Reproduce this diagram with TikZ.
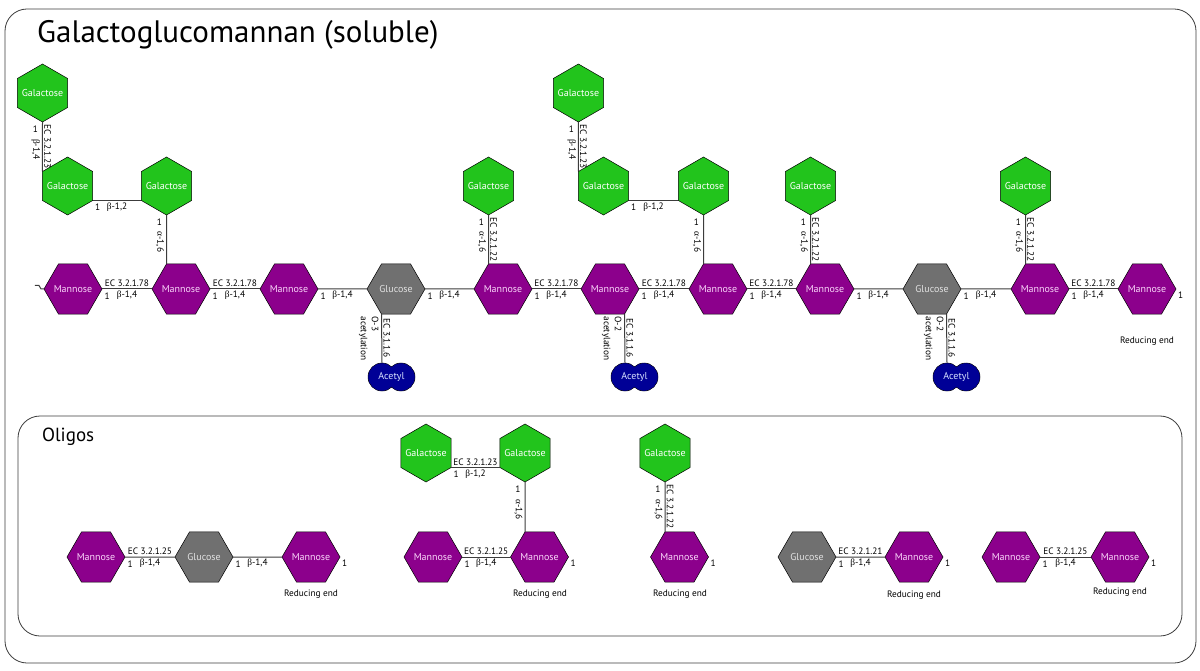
\documentclass[tikz,border=0pt]{standalone}
\usepackage{fontspec}
\setmainfont{PT Sans}
\newfontfamily\grk{Liberation Serif}
\usetikzlibrary{shapes.geometric, positioning}
\definecolor{galcol}{RGB}{34,196,28}
\definecolor{mancol}{RGB}{140,0,140}
\definecolor{glccol}{RGB}{112,112,112}
\definecolor{acecol}{RGB}{0,0,150}
\definecolor{mantext}{RGB}{250,215,250}
\definecolor{glctext}{RGB}{225,225,225}
\definecolor{acetext}{RGB}{215,225,255}
\definecolor{linecol}{RGB}{60,60,60}
\tikzset{
  hexa/.style={regular polygon, regular polygon sides=6, minimum size=58pt, inner sep=0pt, outer sep=0pt,
    draw=black, line width=0.5pt, font=\fontsize{10}{11}\selectfont,
    execute at begin node={\hbox to 0pt\bgroup\hss}, execute at end node={\hss\egroup}},
  man/.style={hexa, fill=mancol, text=mantext},
  glc/.style={hexa, fill=glccol, text=glctext},
  gal/.style={hexa, shape border rotate=30, fill=galcol, text=white},
  acirc/.style={circle, minimum size=28pt, inner sep=0pt, draw=black, line width=0.5pt, fill=acecol},
  acetxt/.style={text=acetext, font=\fontsize{10}{11}\selectfont},
  bnd/.style={draw=linecol, line width=1pt},
  lbl/.style={font=\fontsize{9.3}{11}\selectfont},
  ec/.style={lbl, above, inner sep=1.5pt},
  lk/.style={lbl, below, inner sep=1.5pt},
  one/.style={lbl, anchor=north west, inner sep=0pt, xshift=2pt, yshift=-3pt},
  onev/.style={lbl, anchor=north east, inner sep=0pt, xshift=-4pt, yshift=-3pt},
  ecv/.style={lbl, midway, rotate=-90, anchor=south, inner sep=1.2pt},
  lkv/.style={lbl, pos=0.55, rotate=-90, anchor=north, inner sep=2pt},
  acl/.style={lbl, xshift=-2.5pt, yshift=-2pt, anchor=north west, rotate=-90, align=left, inner sep=0pt},
  redend/.style={lbl}
}
\begin{document}
\begin{tikzpicture}[x=1pt, y=-1pt]
\useasboundingbox (0,0) rectangle (1200,671);
% frames
\draw[linecol, line width=0.8pt, rounded corners=22pt] (5,9) rectangle (1196,663);
\draw[linecol, line width=0.8pt, rounded corners=22pt] (18,416) rectangle (1182,636);
\node[anchor=base west, inner sep=0pt, font=\fontsize{31}{34}\selectfont] (title) at (37,43) {Galactoglucomannan (soluble)};
\node[anchor=base west, inner sep=0pt, font=\fontsize{19}{21}\selectfont] (oligos) at (42,441) {Oligos};

% main chain
\foreach \n/\x/\s/\t in {m1/73/man/Mannose, m2/181/man/Mannose, m3/289/man/Mannose, gl1/396/glc/Glucose,
    m4/503/man/Mannose, m5/610/man/Mannose, m6/718/man/Mannose, m7/825/man/Mannose,
    gl2/932/glc/Glucose, m8/1040/man/Mannose, m9/1147/man/Mannose}
    \node[\s] (\n) at (\x,289) {\t};
\draw[bnd] (m1.west) -- ++(-3,0) -- ++(-2,-3.5) -- ++(-4,0);
\foreach \a/\b in {m1/m2, m2/m3, m4/m5, m5/m6, m6/m7, m8/m9}
    \draw[bnd] (\a.east) node[one]{1} -- node[ec]{EC 3.2.1.78} node[lk]{{\grk β}-1,4} (\b.west);
\foreach \a/\b in {m3/gl1, gl1/m4, m7/gl2, gl2/m8}
    \draw[bnd] (\a.east) node[one]{1} -- node[lk]{{\grk β}-1,4} (\b.west);
\node[one] at (m9.east) {1};
\node[redend] (re0) at (1147,341) {Reducing end};

% galactose side chains
\node[gal] (ga1) at (42.5,93) {Galactose};
\node[gal] (ga2) at (67.6,186) {Galactose};
\node[gal] (ga3) at (166.5,186) {Galactose};
\node[gal] (ga4) at (488.5,186) {Galactose};
\node[gal] (ga5) at (578.4,93) {Galactose};
\node[gal] (ga6) at (603.5,186) {Galactose};
\node[gal] (ga7) at (703.5,186) {Galactose};
\node[gal] (ga8) at (810.5,186) {Galactose};
\node[gal] (ga9) at (1025.5,186) {Galactose};
\draw[bnd] (ga1.south) node[onev]{1} -- node[lkv]{{\grk β}-1,4} node[ecv]{EC 3.2.1.23} (ga2.150);
\draw[bnd] (ga5.south) node[onev]{1} -- node[lkv]{{\grk β}-1,4} node[ecv]{EC 3.2.1.23} (ga6.150);
\draw[bnd] (ga2.330) node[one]{1} -- node[lk]{{\grk β}-1,2} (ga3.210);
\draw[bnd] (ga6.330) node[one]{1} -- node[lk]{{\grk β}-1,2} (ga7.210);
\draw[bnd] (ga3.south) node[onev]{1} -- node[lkv]{{\grk α}-1,6} (m2.120);
\draw[bnd] (ga7.south) node[onev]{1} -- node[lkv]{{\grk α}-1,6} (m6.120);
\foreach \g/\m in {ga4/m4, ga8/m7, ga9/m8}
    \draw[bnd] (\g.south) node[onev]{1} -- node[lkv]{{\grk α}-1,6} node[ecv]{EC 3.2.1.22} (\m.120);

% acetyl groups
\foreach \n/\x in {a1/382, a2/625, a3/947}
{
    \node[acirc] (l\n) at (\x,377) {};
    \node[acirc] (r\n) at (\x+19,377) {};
    \fill[acecol] (\x,377) circle (13.5pt) (\x+19,377) circle (13.5pt);
    \node[acetxt] (\n) at (\x+9.5,377) {Acetyl};
}
\draw[bnd] (gl1.240) node[acl]{O-3\\acetylation} -- node[ecv]{EC 3.1.1.6} (la1.north);
\draw[bnd] (m5.300) node[acl]{O-2\\acetylation} -- node[ecv]{EC 3.1.1.6} (la2.north);
\draw[bnd] (gl2.300) node[acl]{O-2\\acetylation} -- node[ecv]{EC 3.1.1.6} (la3.north);

% oligos
\node[man] (om1) at (96,557) {Mannose};
\node[glc] (og1) at (204,557) {Glucose};
\node[man] (om2) at (311,557) {Mannose};
\draw[bnd] (om1.east) node[one]{1} -- node[ec]{EC 3.2.1.25} node[lk]{{\grk β}-1,4} (og1.west);
\draw[bnd] (og1.east) node[one]{1} -- node[lk]{{\grk β}-1,4} (om2.west);
\node[one] at (om2.east) {1};
\node[redend] (re1) at (311,594) {Reducing end};

\node[gal] (oga1) at (426,453) {Galactose};
\node[gal] (oga2) at (525,453) {Galactose};
\node[man] (om3) at (433,557) {Mannose};
\node[man] (om4) at (539.5,557) {Mannose};
\draw[bnd] (oga1.330) node[one]{1} -- node[ec]{EC 3.2.1.23} node[lk]{{\grk β}-1,2} (oga2.210);
\draw[bnd] (oga2.south) node[onev]{1} -- node[lkv]{{\grk α}-1,6} (om4.120);
\draw[bnd] (om3.east) node[one]{1} -- node[ec]{EC 3.2.1.25} node[lk]{{\grk β}-1,4} (om4.west);
\node[one] at (om4.east) {1};
\node[redend] (re2) at (540,594) {Reducing end};

\node[gal] (oga3) at (665,453) {Galactose};
\node[man] (om5) at (679.5,557) {Mannose};
\draw[bnd] (oga3.south) node[onev]{1} -- node[lkv]{{\grk α}-1,6} node[ecv]{EC 3.2.1.22} (om5.120);
\node[one] at (om5.east) {1};
\node[redend] (re3) at (680,594) {Reducing end};

\node[glc] (og2) at (807,557) {Glucose};
\node[man] (om6) at (914,557) {Mannose};
\draw[bnd] (og2.east) node[one]{1} -- node[ec]{EC 3.2.1.21} node[lk]{{\grk β}-1,4} (om6.west);
\node[one] at (om6.east) {1};
\node[redend] (re4) at (914,595) {Reducing end};

\node[man] (om7) at (1011,557) {Mannose};
\node[man] (om8) at (1120,557) {Mannose};
\draw[bnd] (om7.east) node[one]{1} -- node[ec]{EC 3.2.1.25} node[lk]{{\grk β}-1,4} (om8.west);
\node[one] at (om8.east) {1};
\node[redend] (re5) at (1120,592) {Reducing end};
\end{tikzpicture}
\end{document}
